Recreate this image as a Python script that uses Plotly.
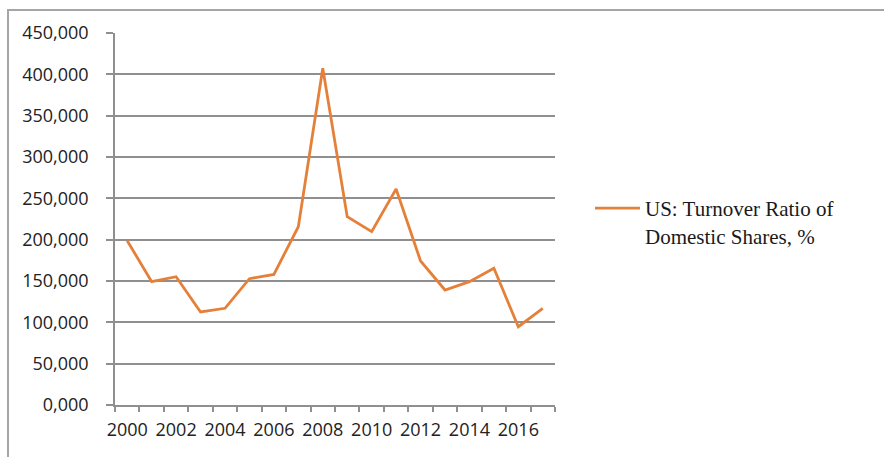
import plotly.graph_objects as go

# US turnover ratio of domestic shares, % (annual)
years = list(range(2000, 2018))
turnover = [198.8, 149.2, 155.2, 112.5, 117.0, 152.8, 158.0, 215.7, 407.3,
            227.8, 209.7, 261.3, 174.2, 139.1, 149.2, 165.4, 94.7, 117.0]
series_name = "US: Turnover Ratio of<br>Domestic Shares, %"

W, H = 884, 457
L, R, T, B = 115, 329, 33, 52
pw, ph = W - L - R, H - T - B

grid_col = "#8f8f8f"
line_col = "#E5803B"

fig = go.Figure()
fig.add_trace(go.Scatter(
    x=years, y=turnover, mode="lines", name=series_name,
    line=dict(color=line_col, width=2.8),
))

# outer chart frame (runs off the right and bottom edges)
def px_to_paper_x(px):
    return (px - L) / pw

def px_to_paper_y(py):
    return (H - B - py) / ph

fig.add_shape(type="rect", xref="paper", yref="paper",
              x0=px_to_paper_x(8), x1=px_to_paper_x(900),
              y0=px_to_paper_y(470), y1=px_to_paper_y(10),
              line=dict(color="#a6a6a6", width=2), layer="below")

fig.update_layout(
    width=W, height=H,
    margin=dict(l=L, r=R, t=T, b=B),
    paper_bgcolor="white", plot_bgcolor="white",
    separators=",.",
    showlegend=True,
    legend=dict(
        x=px_to_paper_x(590), y=px_to_paper_y(188),
        xanchor="left", yanchor="top",
        font=dict(family="Liberation Serif", size=21, color="#1a1a1a"),
        valign="top", itemwidth=45,
        bgcolor="rgba(0,0,0,0)",
    ),
)

fig.update_xaxes(
    range=[1999.5, 2017.5],
    tickmode="linear", tick0=2000, dtick=2,
    ticks="outside", ticklen=0, tickcolor=grid_col,
    minor=dict(tick0=1999.5, dtick=1, ticks="outside", ticklen=5,
               tickcolor=grid_col, tickwidth=1.5, showgrid=False),
    showline=True, linecolor=grid_col, linewidth=1.5,
    showgrid=False, zeroline=False,
    tickfont=dict(family="Open Sans", size=18, color="#222222"),
    ticklabelstandoff=8,
)
fig.update_yaxes(
    range=[0, 450], tickmode="linear", tick0=0, dtick=50,
    tickformat=".3f",
    ticks="outside", ticklen=7, tickcolor=grid_col, tickwidth=1.5,
    showline=True, linecolor=grid_col, linewidth=1.5,
    showgrid=True, gridcolor=grid_col, gridwidth=1.5,
    zeroline=False,
    tickfont=dict(family="Open Sans", size=18, color="#222222"),
    ticklabelstandoff=14,
)

fig.write_html("out.html")
